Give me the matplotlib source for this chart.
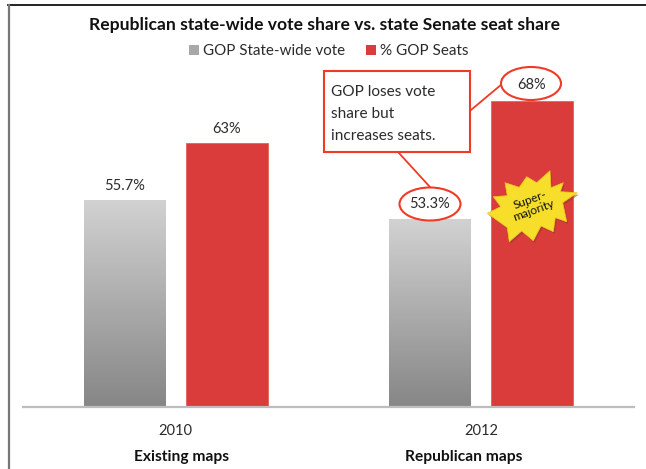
import numpy as np
from matplotlib import pyplot as plt
from matplotlib.colors import LinearSegmentedColormap
from matplotlib.patches import Ellipse, Polygon, Rectangle

plt.rcParams["font.family"] = ["Lato", "DejaVu Sans"]

years = ["2010", "2012"]
map_names = ["Existing maps", "Republican maps"]
vote_share = [55.7, 53.3]
seat_share = [62.8, 68]
vote_labels = ["55.7%", "53.3%"]
seat_labels = ["63%", "68%"]

W, H = 646, 469
TXT = "#2b2b2b"
RED = "#d93c3a"
OUTLINE = "#f03a26"
Y0 = 29.9
Y1 = Y0 + 347 / 8.03

fig = plt.figure(figsize=(W / 100, H / 100), dpi=100)

# chart axes, baseline at y=407 px, axis runs from x=23 to x=634
ax = fig.add_axes([23 / W, 1 - 407 / H, (634 - 23) / W, (407 - 60) / H])
ax.set_xlim(-0.5, 1.5)
ax.set_ylim(Y0, Y1)
for s in ["top", "left", "right"]:
    ax.spines[s].set_visible(False)
ax.spines["bottom"].set_color("#bdbdbd")
ax.spines["bottom"].set_linewidth(1.6)
ax.set_yticks([])
ax.set_xticks([0, 1], years)
ax.tick_params(axis="x", length=0, pad=12, labelsize=10.5, labelcolor=TXT)

x = np.arange(len(years))
bw = 0.268
off = 0.1667
gray_bars = ax.bar(x - off, vote_share, bw, color="#b0b0b0", edgecolor="none")
red_bars = ax.bar(x + off, seat_share, bw, color=RED, edgecolor="#e2625f", linewidth=0.6)

# grey bars have a vertical gradient, light at top and dark at bottom
grad = np.linspace(0, 1, 256).reshape(-1, 1)
gray_map = LinearSegmentedColormap.from_list("g", ["#d2d2d2", "#868686"])
for b in gray_bars:
    im = ax.imshow(grad, cmap=gray_map, extent=[b.get_x(), b.get_x() + b.get_width(), Y0, b.get_height()],
                   aspect="auto", zorder=2, origin="upper")
    im.set_clip_path(b)
ax.set_xlim(-0.5, 1.5)
ax.set_ylim(Y0, Y1)

ax.text(x[0] - off, vote_share[0] + 0.9, vote_labels[0], ha="center", va="bottom", fontsize=10.5, color=TXT)
ax.text(x[0] + off, seat_share[0] + 0.9, seat_labels[0], ha="center", va="bottom", fontsize=10.5, color=TXT)

# overlay in pixel coordinates for frame, legend and callouts
ov = fig.add_axes([0, 0, 1, 1], facecolor="none")
ov.set_xlim(0, W)
ov.set_ylim(H, 0)
ov.axis("off")

# screenshot frame
ov.plot([8, W], [5.5, 5.5], color="#111111", lw=1.3)
ov.plot([8.5, 8.5], [5, H], color="#777777", lw=1.6)

ov.text(324.5, 25, "Republican state-wide vote share vs. state Senate seat share", ha="center", va="center",
        fontsize=12.6, fontweight="bold", color="#111111")

# legend
ov.add_patch(Rectangle((189, 45), 10, 10, fc="#a8a8a8", ec="none"))
ov.text(203, 51, "GOP State-wide vote", ha="left", va="center", fontsize=10.9, color=TXT)
ov.add_patch(Rectangle((366, 45), 10, 10, fc=RED, ec="none"))
ov.text(380, 51, "% GOP Seats", ha="left", va="center", fontsize=11, color=TXT)

# category captions
for cx, name in zip([182, 464], map_names):
    ov.text(cx, 457, name, ha="center", va="center", fontsize=11.2, fontweight="bold", color="#111111")

# callout connectors
ov.plot([471, 502], [110, 84], color=OUTLINE, lw=1.3)
ov.plot([398, 430], [152, 187], color=OUTLINE, lw=1.3)

# callout box
ov.add_patch(Rectangle((324, 71), 146, 81, fc="white", ec=OUTLINE, lw=1.5, zorder=3))
ov.text(331, 114, "GOP loses vote\nshare but\nincreases seats.", ha="left", va="center", fontsize=11.1,
        color=TXT, linespacing=1.75, zorder=4)

# ellipses around the 2012 labels
ov.add_patch(Ellipse((430, 204), 61, 33, fc="white", ec=OUTLINE, lw=1.5, zorder=3))
ov.text(430, 204, vote_labels[1], ha="center", va="center", fontsize=10.5, color=TXT, zorder=4)
ov.add_patch(Ellipse((531, 83.5), 60, 33, fc="white", ec=OUTLINE, lw=1.5, zorder=3))
ov.text(532, 85, seat_labels[1], ha="center", va="center", fontsize=10.5, color=TXT, zorder=4)

# super-majority star
star = [(526.7, 176.7), (536.7, 182.7), (550, 170.7), (551, 187.7), (563.3, 182.7), (560.3, 191.7),
        (577.3, 192.7), (562.7, 202.7), (566.7, 221.7), (555.3, 217.7), (553.3, 231.7), (541, 226),
        (533.3, 240.7), (521.7, 231), (509.3, 241.7), (507.3, 227.7), (487.3, 213.3), (500.7, 206.7),
        (493.3, 196.7), (507.3, 195.7), (505, 182.7), (519.3, 187.3)]
shadow = [(px + 1.5, py + 2) for px, py in star]
ov.add_patch(Polygon(shadow, closed=True, fc="#8a3a2a", ec="none", alpha=0.5, zorder=3))
ov.add_patch(Polygon(star, closed=True, fc="#f7de2a", ec="#f2c81e", lw=0.5, zorder=3))
ov.text(532, 205, "Super-\nmajority", ha="center", va="center", fontsize=8.6, rotation=20, color="#111111",
        linespacing=1.05, zorder=4)

fig.savefig("out.png", dpi=100)
